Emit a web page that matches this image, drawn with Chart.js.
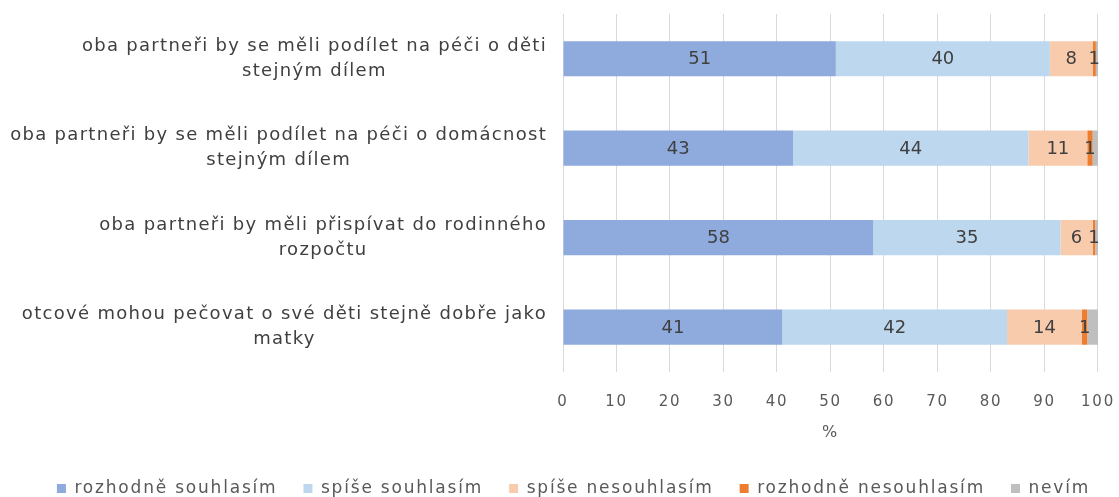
<!DOCTYPE html>
<html>
<head>
<meta charset="utf-8">
<script src="https://cdn.jsdelivr.net/npm/chart.js@4"></script>
<style>
  html, body { margin: 0; padding: 0; background: #fff; }
  #wrap { width: 1119px; height: 497px; }
</style>
</head>
<body>
<div id="wrap"><canvas id="chart"></canvas></div>
<script>
const statements = [
  ["oba partneři by se měli podílet na péči o děti", "stejným dílem"],
  ["oba partneři by se měli podílet na péči o domácnost", "stejným dílem"],
  ["oba partneři by měli přispívat do rodinného", "rozpočtu"],
  ["otcové mohou pečovat o své děti stejně dobře jako", "matky"]
];

const seriesNames = ["rozhodně souhlasím", "spíše souhlasím", "spíše nesouhlasím", "rozhodně nesouhlasím", "nevím"];

const definitelyAgree = [51, 43, 58, 41];
const ratherAgree = [40, 44, 35, 42];
const ratherDisagree = [8, 11, 6, 14];
const definitelyDisagree = [0.6, 1, 0.5, 1];
const dontKnow = [0.4, 1, 0.5, 2];

const xTicks = [0, 10, 20, 30, 40, 50, 60, 70, 80, 90, 100];

const colors = ["#8FAADC", "#BDD7EE", "#F8CBAD", "#ED7D31", "#BFBFBF"];
const FONT = "DejaVu Sans";

// the reference text is set quite wide
const spacing = {
  id: "spacing",
  beforeLayout(chart) { chart.ctx.letterSpacing = "1.8px"; },
  beforeDraw(chart) { chart.ctx.letterSpacing = "1.8px"; }
};

// bar value labels, first four series only
const valueLabels = {
  id: "valueLabels",
  afterDatasetsDraw(chart) {
    const ctx = chart.ctx;
    ctx.save();
    ctx.letterSpacing = "0px";
    ctx.font = "18px '" + FONT + "'";
    ctx.fillStyle = "#404040";
    ctx.textAlign = "center";
    ctx.textBaseline = "middle";
    chart.data.datasets.forEach((ds, i) => {
      if (i > 3) return;
      chart.getDatasetMeta(i).data.forEach((bar, j) => {
        const v = Math.round(ds.data[j]);
        if (!v) return;
        ctx.fillText(String(v), (bar.x + bar.base) / 2, bar.y + 1);
      });
    });
    ctx.restore();
  }
};

// category labels: block right aligned, lines centred inside the block
const categoryLabels = {
  id: "categoryLabels",
  afterDraw(chart) {
    const ctx = chart.ctx;
    const y = chart.scales.y;
    ctx.save();
    ctx.letterSpacing = "1.3px";
    ctx.font = "18px '" + FONT + "'";
    ctx.fillStyle = "#404040";
    ctx.textAlign = "center";
    ctx.textBaseline = "middle";
    const right = chart.chartArea.left - 16;
    statements.forEach((lines, i) => {
      const w = Math.max(...lines.map(l => ctx.measureText(l).width));
      const cx = right - w / 2;
      const cy = y.getPixelForValue(i);
      lines.forEach((l, k) => {
        ctx.fillText(l, cx, cy + (k - (lines.length - 1) / 2) * 25);
      });
    });
    ctx.restore();
  }
};

const data = [definitelyAgree, ratherAgree, ratherDisagree, definitelyDisagree, dontKnow];

new Chart(document.getElementById("chart"), {
  type: "bar",
  data: {
    labels: statements,
    datasets: seriesNames.map((name, i) => ({
      label: name,
      data: data[i],
      backgroundColor: colors[i],
      borderWidth: 0,
      barPercentage: 0.393,
      categoryPercentage: 1
    }))
  },
  options: {
    indexAxis: "y",
    responsive: true,
    maintainAspectRatio: false,
    animation: false,
    layout: { padding: { top: 14, right: 0, left: 28, bottom: -10 } },
    scales: {
      x: {
        stacked: true,
        min: 0,
        max: 100,
        afterBuildTicks: axis => { axis.ticks = xTicks.map(v => ({ value: v })); },
        grid: { color: "#D9D9D9", drawTicks: true, tickLength: 17, tickColor: "rgba(0,0,0,0)" },
        border: { display: false },
        ticks: { color: "#595959", font: { family: FONT, size: 15 }, padding: 4 },
        title: { display: true, text: "%", color: "#595959", font: { family: FONT, size: 16 }, padding: { top: 8, bottom: 12 } }
      },
      y: {
        stacked: true,
        grid: { display: false },
        border: { display: false },
        ticks: { display: false },
        afterFit: axis => { axis.width = 535; }
      }
    },
    plugins: {
      legend: {
        position: "bottom",
        labels: {
          boxWidth: 9,
          boxHeight: 9,
          padding: 26,
          color: "#595959",
          font: { family: FONT, size: 17 }
        }
      },
      tooltip: { enabled: false }
    }
  },
  plugins: [spacing, valueLabels, categoryLabels]
});
</script>
</body>
</html>
